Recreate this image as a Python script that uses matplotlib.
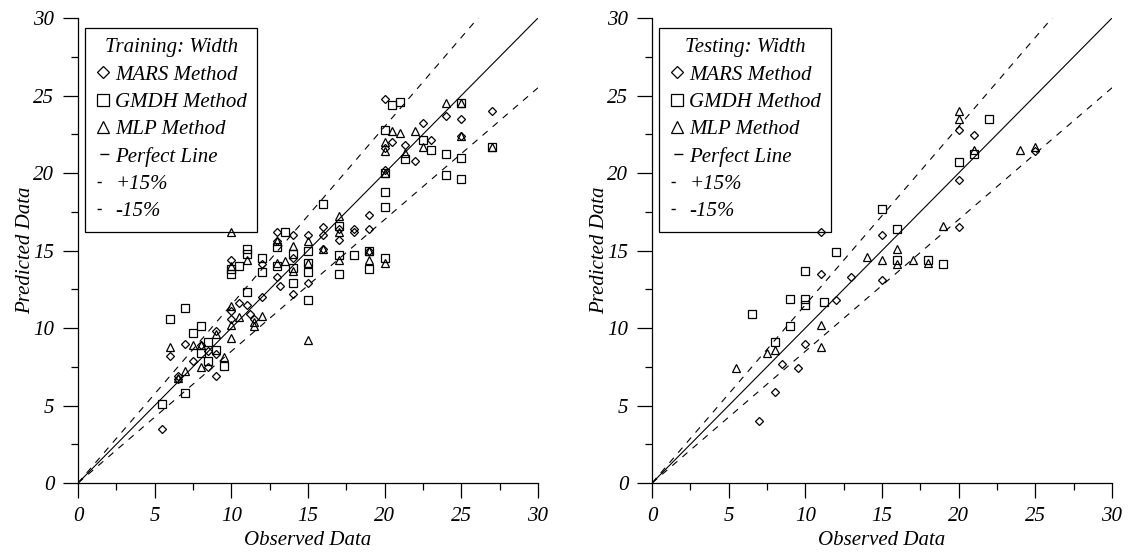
import matplotlib
matplotlib.use('Agg')
import matplotlib.pyplot as plt
from matplotlib.lines import Line2D
from matplotlib.ticker import MultipleLocator
import numpy as np

plt.rcParams['font.family'] = ['Liberation Serif', 'DejaVu Serif']
plt.rcParams['font.style'] = 'italic'
plt.rcParams['font.size'] = 15

# training data (observed, predicted)
train_mars_x = [5.5, 6, 6.5, 7, 7.5, 8, 8.5, 9, 9, 9, 10, 10, 10, 10.5, 11, 11.5, 11.2, 12, 12, 13, 13.2,
                13, 13, 14, 14, 14, 15, 15, 16, 16, 16, 17, 17, 18, 18, 19, 19, 19, 20, 20, 20, 20.5, 21.3,
                22, 22.5, 23, 24, 25, 25, 27, 8.5, 6.5]
train_mars_y = [3.5, 8.2, 6.9, 9.0, 7.9, 8.9, 7.5, 6.9, 9.8, 8.3, 14.4, 11.1, 10.6, 11.6, 11.5, 10.6, 10.9, 14.1,
                12.0, 13.3, 12.7, 16.2, 15.6, 16.0, 12.2, 14.5, 16.0, 12.9, 16.5, 16.0, 15.1, 15.7, 16.4, 16.2,
                16.4, 17.3, 16.4, 15.0, 24.8, 21.6, 20.2, 22.0, 21.8, 20.8, 23.2, 22.1, 23.7, 23.5, 22.4, 24.0,
                8.5, 6.7]
train_gmdh_x = [5.5, 6, 7, 7, 7.5, 8, 8, 8.5, 8.5, 9, 9.5, 10, 10, 10.5, 11, 11, 11, 12, 12, 13, 13.5, 14, 14,
                14, 15, 15, 15, 15, 16, 17, 17, 17, 18, 19, 19, 20, 20, 20, 20, 20, 20.5, 21, 21.3, 22.5, 23,
                24, 24, 25, 25, 25, 27, 13]
train_gmdh_y = [5.1, 10.6, 11.3, 5.8, 9.7, 10.1, 8.4, 9.1, 7.9, 8.6, 7.55, 13.5, 13.8, 14.0, 15.1, 14.8, 12.3,
                14.5, 13.6, 14.0, 16.2, 14.8, 12.9, 13.9, 15.0, 13.6, 11.8, 14.2, 18.0, 16.6, 13.5, 14.7, 14.7,
                13.8, 15.0, 20.0, 18.8, 17.8, 14.5, 22.8, 24.4, 24.6, 20.9, 22.1, 21.5, 21.2, 19.9, 24.5, 21.0,
                19.6, 21.7, 15.2]
train_mlp_x = [6, 6.5, 7, 7.5, 8, 8, 9, 9.5, 10, 10, 10, 10, 10.5, 11, 11.5, 11.5, 12, 13, 13, 13.5, 14, 14,
               15, 15, 15, 16, 17, 17, 17, 19, 19, 20, 20, 20, 20.5, 21, 21.3, 22, 22.5, 24, 25, 25, 27, 20,
               10]
train_mlp_y = [8.8, 6.8, 7.2, 8.9, 7.5, 8.9, 9.6, 8.15, 16.2, 14.0, 10.2, 9.35, 10.7, 14.4, 10.1, 10.4, 10.8,
               15.6, 14.2, 14.3, 15.3, 13.7, 15.6, 14.2, 9.2, 15.1, 17.2, 14.4, 16.2, 15.0, 14.4, 14.2, 22.0,
               21.4, 22.7, 22.6, 21.3, 22.7, 21.7, 24.5, 24.5, 22.4, 21.7, 20.0, 11.4]

# testing data
test_mars_x = [7, 8, 8.5, 9.5, 10, 11, 11, 12, 13, 15, 15, 20, 20, 20, 21, 25]
test_mars_y = [4.0, 5.9, 7.65, 7.4, 9.0, 13.5, 16.2, 11.8, 13.3, 16.0, 13.1, 22.8, 19.55, 16.5, 22.45, 21.4]
test_gmdh_x = [6.5, 8, 9, 9, 10, 10, 10, 11.2, 12, 15, 16, 16, 18, 19, 20, 21, 22]
test_gmdh_y = [10.9, 9.1, 10.15, 11.9, 11.9, 11.5, 13.7, 11.7, 14.9, 17.7, 16.4, 14.4, 14.4, 14.1, 20.7, 21.2,
               23.5]
test_mlp_x = [5.5, 7.5, 8, 11, 11, 14, 15, 16, 16, 17, 18, 19, 20, 20, 21, 24, 25]
test_mlp_y = [7.45, 8.4, 8.6, 10.2, 8.8, 14.6, 14.4, 15.1, 14.1, 14.4, 14.2, 16.6, 24.0, 23.5, 21.5, 21.5, 21.7]

line_x = [0, 30]


def draw_panel(ax, title, mars, gmdh, mlp, small=False):
    mk = dict(linestyle='none', markerfacecolor='none', markeredgecolor='black', markeredgewidth=0.9, zorder=3)
    ax.plot(line_x, line_x, color='black', lw=0.8)
    ax.plot(line_x, [v * 1.15 for v in line_x], color='black', lw=0.8, linestyle=(0, (6, 6)))
    ax.plot(line_x, [v * 0.85 for v in line_x], color='black', lw=0.8, linestyle=(0, (6, 6)))
    ax.plot(mars[0], mars[1], marker='D', markersize=3.9 if small else 4.4, **mk)
    ax.plot(gmdh[0], gmdh[1], marker='s', markersize=6, **mk)
    ax.plot(mlp[0], mlp[1], marker='^', markersize=6, **mk)

    ax.set_xlim(0, 30)
    ax.set_ylim(0, 30)
    ax.xaxis.set_major_locator(MultipleLocator(5))
    ax.yaxis.set_major_locator(MultipleLocator(5))
    ax.xaxis.set_minor_locator(MultipleLocator(2.5))
    ax.yaxis.set_minor_locator(MultipleLocator(2.5))
    ax.tick_params(which='major', direction='out', length=11, width=0.9, pad=6)
    ax.tick_params(which='minor', direction='out', length=5, width=0.9)
    for s in ['top', 'right']:
        ax.spines[s].set_visible(False)
    for s in ['left', 'bottom']:
        ax.spines[s].set_linewidth(0.9)
    ax.set_xlabel('Observed Data', labelpad=4)
    ax.set_ylabel('Predicted Data', labelpad=-1)

    hk = dict(color='black', markerfacecolor='none', markeredgecolor='black', markeredgewidth=0.9)
    handles = [
        Line2D([], [], marker='D', markersize=6.5, linestyle='none', **hk),
        Line2D([], [], marker='s', markersize=9, linestyle='none', **hk),
        Line2D([], [], marker='^', markersize=9, linestyle='none', **hk),
        Line2D([], [], lw=1, linestyle=(0, (0, 3.5, 6.5, 100)), color='black'),
        Line2D([], [], lw=1, linestyle=(0, (0, 1.5, 3, 100)), color='black'),
        Line2D([], [], lw=1, linestyle=(0, (0, 1.5, 3, 100)), color='black'),
    ]
    labels = ['MARS Method', 'GMDH Method', 'MLP Method', 'Perfect Line', '+15%', '-15%']
    leg = ax.legend(handles, labels, title=title, loc='upper left', bbox_to_anchor=(0.015, 0.979),
                    borderaxespad=0, fancybox=False, framealpha=1, edgecolor='black',
                    handlelength=0.7, handletextpad=0.25, labelspacing=0.37, borderpad=0.5,
                    fontsize=15, title_fontsize=15)
    leg.get_frame().set_linewidth(0.9)
    leg.get_title().set_fontstyle('italic')
    leg.set_zorder(2.5)


fig = plt.figure(figsize=(11.34, 5.55), dpi=100)
ax1 = fig.add_axes([0.0688, 0.1297, 0.4056, 0.8378])
ax2 = fig.add_axes([0.575, 0.1297, 0.4056, 0.8378])

draw_panel(ax1, 'Training: Width', (train_mars_x, train_mars_y), (train_gmdh_x, train_gmdh_y),
           (train_mlp_x, train_mlp_y))
draw_panel(ax2, 'Testing: Width', (test_mars_x, test_mars_y), (test_gmdh_x, test_gmdh_y),
           (test_mlp_x, test_mlp_y), small=True)

fig.savefig('out.png', dpi=100)
